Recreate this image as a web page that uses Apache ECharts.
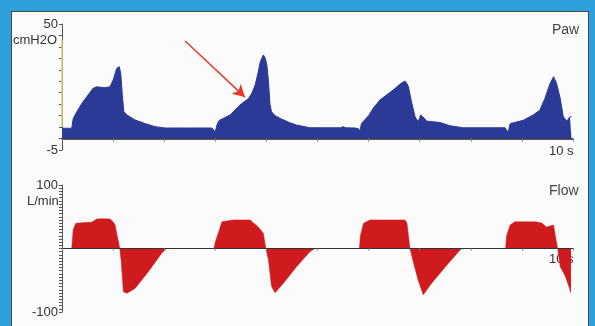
<!DOCTYPE html>
<html>
<head>
<meta charset="utf-8">
<script src="https://cdn.jsdelivr.net/npm/echarts@6/dist/echarts.min.js"></script>
<style>
  html, body { margin: 0; padding: 0; background: #2f9fdc; overflow: hidden; }
  #wrap { position: relative; width: 595px; height: 326px; }
  #panel { position: absolute; left: 11px; top: 11px; width: 576px; height: 330px;
           background: #fbfbfb; border: 1px solid #4a4a4a; }
  #chart { position: absolute; left: 0; top: 0; width: 595px; height: 326px; }
</style>
</head>
<body>
<div id="wrap">
  <div id="panel"></div>
  <div id="chart"></div>
</div>
<script>
// ---- Data (time in s) ----
const pawTime = [0, 0.19, 0.22, 0.29, 0.39, 0.51, 0.61, 0.68, 0.84, 0.94, 1.0, 1.07, 1.12, 1.15, 1.18, 1.21, 1.27, 1.43, 1.62, 1.82, 2.02,
  2.5, 2.93, 3.0, 3.04, 3.08, 3.13, 3.29, 3.48, 3.65, 3.72, 3.78, 3.84, 3.88, 3.94, 3.98, 4.01, 4.04, 4.07, 4.10, 4.17, 4.27, 4.45, 4.59, 4.85,
  5.45, 5.5, 5.55, 5.73, 5.8, 5.83, 5.86, 5.9, 6.0, 6.09, 6.22, 6.35, 6.48, 6.61, 6.71, 6.75, 6.78, 6.84, 6.91, 6.97, 7.02, 7.06, 7.14, 7.4, 7.59, 7.85,
  8.67, 8.73, 8.77, 8.8, 9.03, 9.22, 9.35, 9.45, 9.55, 9.62, 9.68, 9.75, 9.81, 9.88, 9.94, 9.97];
const pawValue = [4.5, 4.5, 8.8, 11.7, 15.4, 19, 22, 22.6, 22.2, 22.6, 25.5, 30.6, 31.4, 28.5, 19, 11.7, 10.3, 8.1, 6.6, 5.2, 4.6,
  4.6, 4.6, 3.0, 6.5, 8.0, 8.5, 10.3, 14.6, 17.5, 20, 23.4, 29, 33.5, 36.5, 35, 32, 25, 15, 11.7, 10, 8.8, 7, 5.9, 4.7,
  4.7, 5.2, 4.7, 4.6, 4.3, 3.3, 6.5, 7.6, 10, 13.2, 16.8, 19, 21.2, 23.7, 25.1, 24, 22.6, 16, 9.5, 7.3, 10.3, 9.5, 7.6, 7, 5.6, 4.7,
  4.7, 2.7, 6.5, 7, 8, 10.3, 12.4, 17.5, 24, 27, 24, 17.5, 9.5, 7.6, 9.5, 9.5];

const flowTime = [0, 0.19, 0.22, 0.27, 0.45, 0.58, 0.68, 0.8, 0.94, 1.0, 1.04, 1.08, 1.1, 1.13, 1.16, 1.2, 1.27, 1.43, 1.69, 1.95, 2.05,
  2.97, 3.0, 3.13, 3.35, 3.68, 3.84, 3.94, 3.99, 4.04, 4.1, 4.17, 4.33, 4.59, 4.85, 4.95,
  5.82, 5.84, 5.9, 6.03, 6.4, 6.71, 6.75, 6.81, 6.88, 6.97, 7.07, 7.23, 7.5, 7.76, 7.82,
  8.68, 8.7, 8.77, 8.86, 9.26, 9.39, 9.48, 9.62, 9.67, 9.7, 9.75, 9.84, 9.91, 9.96];
const flowValue = [0, 0, 30, 39.6, 41, 41.4, 46.5, 47, 46.5, 42, 37, 20, 13, 0, -20.8, -68, -70.5, -62.8, -36.5, -7.6, 0,
  0, 10, 42, 45, 45, 34, 24, 0, -18, -60, -69.5, -55, -28.6, -5, 0,
  0, 20, 39.6, 45, 45, 45, 40, 0, -23, -50, -73, -55, -29, -5, 0,
  0, 20, 37, 42, 42, 40, 34, 37, 13, 0, -28.6, -42, -57.5, -70.5];

const pawTicks = [-5, 50];
const flowTicks = [-100, 100];
const arrowFrom = [2.41, 42.6];
const arrowTo = [3.58, 18.1];
const pawAxisHighlight = [5, 43];

const pawData = pawTime.map((t, i) => [t, pawValue[i]]);
const flowData = flowTime.map((t, i) => [t, flowValue[i]]);

const FONT = 'Liberation Sans, Arial, sans-serif';
const chart = echarts.init(document.getElementById('chart'), null, { renderer: 'canvas' });

chart.setOption({
  backgroundColor: 'transparent',
  animation: false,
  textStyle: { fontFamily: FONT },
  grid: [
    { left: 62, right: 22, top: 24, height: 126 },
    { left: 62, right: 22, top: 185, height: 127 }
  ],
  xAxis: [
    { gridIndex: 0, type: 'value', min: 0, max: 10, interval: 1, z: 5,
      axisLine: { onZero: true, lineStyle: { color: '#1d1d3a', width: 1.5 } },
      axisTick: { show: true, length: 3, lineStyle: { color: '#777' } },
      axisLabel: { show: false }, splitLine: { show: false } },
    { gridIndex: 1, type: 'value', min: 0, max: 10, interval: 1, z: 5,
      axisLine: { onZero: true, lineStyle: { color: '#333', width: 1.2 } },
      axisTick: { show: true, length: 2, lineStyle: { color: '#888' } },
      axisLabel: { show: false }, splitLine: { show: false } }
  ],
  yAxis: [
    { gridIndex: 0, type: 'value', min: -5, max: 50, interval: 5,
      axisLine: { show: true, onZero: false, lineStyle: { color: '#555', width: 1 } },
      axisTick: { show: true, length: 3, lineStyle: { color: '#555' } },
      axisLabel: { fontSize: 13, color: '#333', margin: 4, fontFamily: FONT,
        formatter: v => pawTicks.includes(v) ? String(v) : '' },
      splitLine: { show: false } },
    { gridIndex: 1, type: 'value', min: -100, max: 100, interval: 5,
      axisLine: { show: true, onZero: false, lineStyle: { color: '#555', width: 1 } },
      axisTick: { show: true, length: 3, lineStyle: { color: '#555' } },
      axisLabel: { fontSize: 13, color: '#333', margin: 4, fontFamily: FONT,
        formatter: v => flowTicks.includes(v) ? String(v) : '' },
      splitLine: { show: false } }
  ],
  graphic: [
    { type: 'text', left: 13, top: 34, style: { text: 'cmH2O', font: '13px ' + FONT, fill: '#333' } },
    { type: 'text', left: 27, top: 195, style: { text: 'L/min', font: '13px ' + FONT, fill: '#333' } },
    { type: 'text', left: 552, top: 23, style: { text: 'Paw', font: '14px ' + FONT, fill: '#444' } },
    { type: 'text', left: 549, top: 184, style: { text: 'Flow', font: '14px ' + FONT, fill: '#444' } },
    { type: 'text', left: 549, top: 145, style: { text: '10 s', font: '13px ' + FONT, fill: '#333' } },
    { type: 'text', left: 549, top: 253, z: -1, style: { text: '10 s', font: '13px ' + FONT, fill: '#333' } }
  ],
  series: [
    { type: 'line', xAxisIndex: 0, yAxisIndex: 0, data: pawData, showSymbol: false, z: 3,
      lineStyle: { color: '#2b3a96', width: 1 }, areaStyle: { color: '#2b3a96', opacity: 1 },
      silent: true,
      markLine: { silent: true, symbol: ['none', 'arrow'], symbolSize: [10, 12], z: 6,
        lineStyle: { color: '#e53a2a', width: 1.5, type: 'solid' }, label: { show: false },
        data: [
          [{ coord: arrowFrom }, { coord: arrowTo }],
          [{ coord: [0, pawAxisHighlight[1]], symbol: 'none', lineStyle: { color: '#d8d27c', width: 1.5 } },
           { coord: [0, pawAxisHighlight[0]], symbol: 'none' }]
        ] } },
    { type: 'line', xAxisIndex: 1, yAxisIndex: 1, data: flowData, showSymbol: false, z: 3,
      lineStyle: { color: '#cf1b1e', width: 0.5 }, areaStyle: { color: '#cf1b1e', opacity: 1 },
      silent: true }
  ]
});
</script>
</body>
</html>
